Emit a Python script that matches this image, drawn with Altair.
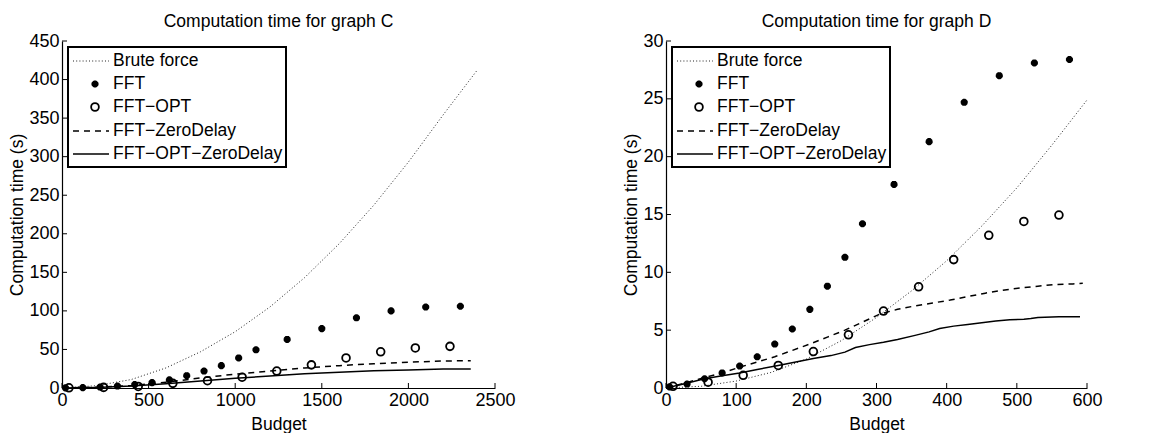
import altair as alt
import pandas as pd

# ---------------- Graph C ----------------
c_brute_x = [0, 200, 400, 600, 800, 1000, 1200, 1400, 1600, 1800, 2000, 2200, 2400]
c_brute_y = [0, 3, 11, 26, 47, 73, 105, 143, 187, 237, 293, 354, 413]

c_fft_x = [20, 120, 220, 320, 420, 520, 620, 720, 820, 920, 1020, 1120, 1300, 1500, 1700, 1900, 2100, 2300]
c_fft_y = [0.2, 0.5, 1.2, 2.5, 4.5, 7, 10.5, 16, 22, 29, 39, 49.5, 63, 77, 91, 100, 105, 106]

c_opt_x = [40, 240, 440, 640, 840, 1040, 1240, 1440, 1640, 1840, 2040, 2240]
c_opt_y = [0.3, 0.8, 2, 6, 9.5, 14, 22, 30, 39, 47, 52, 54]

c_zd_x = [0, 200, 400, 600, 800, 1000, 1200, 1400, 1600, 1800, 2000, 2200, 2360]
c_zd_y = [0, 1, 3, 7.5, 13, 18, 22, 26, 29, 31.5, 33.5, 35, 35.5]

c_ozd_x = [0, 200, 400, 600, 800, 1000, 1200, 1400, 1600, 1800, 2000, 2200, 2360]
c_ozd_y = [0, 0.8, 2.5, 5.5, 9, 12.5, 15.5, 18.5, 20.5, 22.5, 23.5, 24.5, 24.5]

c_xticks = [0, 500, 1000, 1500, 2000, 2500]
c_yticks = [0, 50, 100, 150, 200, 250, 300, 350, 400, 450]

# ---------------- Graph D ----------------
d_brute_x = [0, 50, 100, 150, 200, 250, 300, 350, 400, 450, 500, 550, 600]
d_brute_y = [0, 0.15, 0.6, 1.35, 2.5, 4.1, 6.1, 8.4, 11.0, 14.0, 17.3, 21.0, 24.9]

d_fft_x = [5, 30, 55, 80, 105, 130, 155, 180, 205, 230, 255, 280, 325, 375, 425, 475, 525, 575]
d_fft_y = [0.1, 0.34, 0.8, 1.3, 1.9, 2.7, 3.8, 5.1, 6.8, 8.8, 11.3, 14.2, 17.6, 21.3, 24.7, 27.0, 28.1, 28.4]

d_opt_x = [10, 60, 110, 160, 210, 260, 310, 360, 410, 460, 510, 560]
d_opt_y = [0.15, 0.5, 1.1, 1.95, 3.15, 4.6, 6.65, 8.75, 11.1, 13.2, 14.4, 14.95]

d_zd_x = [0, 25, 55, 80, 105, 130, 155, 180, 205, 230, 255, 280, 305, 330, 355, 380, 405, 430, 455, 480, 505, 530, 555, 580, 594]
d_zd_y = [0, 0.4, 0.9, 1.3, 1.8, 2.25, 2.7, 3.25, 3.8, 4.4, 5.0, 5.7, 6.4, 6.8, 7.1, 7.35, 7.6, 7.9, 8.2, 8.45, 8.65, 8.8, 8.95, 9.0, 9.05]

d_ozd_x = [0, 25, 55, 80, 105, 130, 160, 185, 210, 235, 255, 270, 290, 310, 330, 355, 375, 390, 410, 430, 450, 470, 490, 510, 520, 530, 560, 590]
d_ozd_y = [0, 0.35, 0.8, 1.05, 1.3, 1.6, 1.95, 2.25, 2.55, 2.8, 3.1, 3.5, 3.75, 3.95, 4.2, 4.55, 4.85, 5.15, 5.35, 5.5, 5.65, 5.8, 5.9, 5.95, 6.0, 6.1, 6.15, 6.15]

d_xticks = [0, 100, 200, 300, 400, 500, 600]
d_yticks = [0, 5, 10, 15, 20, 25, 30]

series_names = ["Brute force", "FFT", "FFT\u2212OPT", "FFT\u2212ZeroDelay", "FFT\u2212OPT\u2212ZeroDelay"]
titles = ["Computation time for graph C", "Computation time for graph D"]
x_title = "Budget"
y_title = "Computation time (s)"

FONT = "Liberation Sans"
BLACK = "#000000"
STAR = "M-1,0L1,0M0,-1L0,1M-0.7,-0.7L0.7,0.7M-0.7,0.7L0.7,-0.7"
H = 347
STAR_SIZE = 50
CIRC_SIZE = 60


def df(xs, ys):
    return pd.DataFrame({"x": xs, "y": ys})


def panel(title, w, xmax, xticks, ymax, yticks, brute, fft, opt, zd, ozd):
    xs = alt.Scale(domain=[0, xmax], nice=False, zero=False)
    ys = alt.Scale(domain=[0, ymax], nice=False, zero=False)
    xax = alt.Axis(values=xticks, title=x_title, format="d", titlePadding=6)
    yax = alt.Axis(values=yticks, title=y_title, format="d", titlePadding=2)
    X = alt.X("x:Q", scale=xs, axis=xax)
    Y = alt.Y("y:Q", scale=ys, axis=yax)

    brute_l = alt.Chart(df(*brute)).mark_line(color="#222222", strokeWidth=1, strokeDash=[1, 2.2]).encode(x=X, y=Y)
    zd_l = alt.Chart(df(*zd)).mark_line(color=BLACK, strokeWidth=1.5, strokeDash=[6, 5]).encode(x=X, y=Y)
    ozd_l = alt.Chart(df(*ozd)).mark_line(color=BLACK, strokeWidth=1.5).encode(x=X, y=Y)
    fft_p = alt.Chart(df(*fft)).mark_point(shape=STAR, size=STAR_SIZE, filled=False, stroke=BLACK,
                                           strokeWidth=2.5, opacity=1).encode(x=X, y=Y)
    opt_p = alt.Chart(df(*opt)).mark_point(shape="circle", size=CIRC_SIZE, filled=False, stroke=BLACK,
                                           strokeWidth=1.8, opacity=1).encode(x=X, y=Y)

    xt = alt.Chart(pd.DataFrame({"t": xticks})).mark_rule(color=BLACK, strokeWidth=1).encode(
        x=alt.X("t:Q", scale=xs, axis=xax), y=alt.value(H), y2=alt.value(H - 5))
    yt = alt.Chart(pd.DataFrame({"t": yticks})).mark_rule(color=BLACK, strokeWidth=1).encode(
        y=alt.Y("t:Q", scale=ys, axis=yax), x=alt.value(0), x2=alt.value(5))

    # legend (decoration)
    one = pd.DataFrame({"a": [0]})
    lx0, lx1, ly0, ly1 = 6, 224, 6, 126
    rows = [20, 43, 66, 90, 113]
    box = alt.Chart(one).mark_rect(fill="white", stroke=BLACK, strokeWidth=2).encode(
        x=alt.value(lx0), x2=alt.value(lx1), y=alt.value(ly0), y2=alt.value(ly1))
    leg = [box]
    for name, ry in zip(series_names, rows):
        leg.append(alt.Chart(one).mark_text(text=name, align="left", baseline="middle", font=FONT,
                                            fontSize=17.5, color=BLACK).encode(x=alt.value(51), y=alt.value(ry)))
    leg.append(alt.Chart(one).mark_rule(color="#222222", strokeWidth=1, strokeDash=[1, 2.2]).encode(
        x=alt.value(11), x2=alt.value(47), y=alt.value(rows[0])))
    leg.append(alt.Chart(one).mark_point(shape=STAR, size=STAR_SIZE, filled=False, stroke=BLACK,
                                         strokeWidth=2.5, opacity=1).encode(x=alt.value(33), y=alt.value(rows[1])))
    leg.append(alt.Chart(one).mark_point(shape="circle", size=CIRC_SIZE, filled=False, stroke=BLACK,
                                         strokeWidth=1.8, opacity=1).encode(x=alt.value(33), y=alt.value(rows[2])))
    leg.append(alt.Chart(one).mark_rule(color=BLACK, strokeWidth=1.5, strokeDash=[6, 5]).encode(
        x=alt.value(11), x2=alt.value(47), y=alt.value(rows[3])))
    leg.append(alt.Chart(one).mark_rule(color=BLACK, strokeWidth=1.5).encode(
        x=alt.value(11), x2=alt.value(47), y=alt.value(rows[4])))

    return alt.layer(brute_l, zd_l, ozd_l, fft_p, opt_p, xt, yt, *leg).properties(
        width=w, height=H,
        title=alt.TitleParams(title, fontSize=17.5, fontWeight="normal", font=FONT, color=BLACK,
                              offset=2, anchor="middle", frame="group"),
    )


left = panel(titles[0], 433, 2500, c_xticks, 450, c_yticks,
             (c_brute_x, c_brute_y), (c_fft_x, c_fft_y), (c_opt_x, c_opt_y),
             (c_zd_x, c_zd_y), (c_ozd_x, c_ozd_y))
right = panel(titles[1], 421, 600, d_xticks, 30, d_yticks,
              (d_brute_x, d_brute_y), (d_fft_x, d_fft_y), (d_opt_x, d_opt_y),
              (d_zd_x, d_zd_y), (d_ozd_x, d_ozd_y))

chart = alt.hconcat(left, right, spacing=106).properties(
    padding={"left": 0, "top": 4, "right": 0, "bottom": 0}
).configure_view(stroke=None).configure_axis(
    domainColor=BLACK, domainWidth=1.2, ticks=False, grid=False,
    labelFont=FONT, labelFontSize=18, labelColor=BLACK, labelPadding=3,
    labelFlush=False, labelOverlap=False,
    titleFont=FONT, titleFontSize=17.5, titleFontWeight="normal", titleColor=BLACK,
)

chart.save("out.html", embed_options={"renderer": "svg", "actions": False})
